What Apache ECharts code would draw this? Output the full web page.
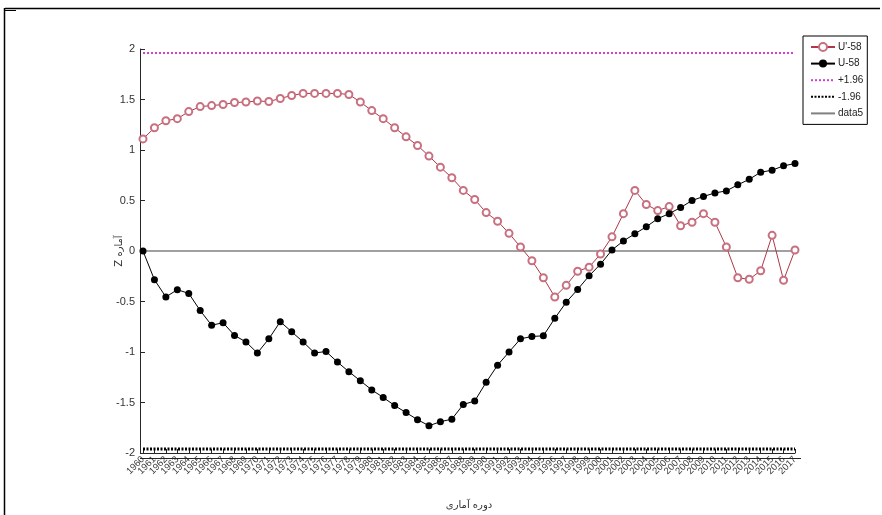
<!DOCTYPE html>
<html>
<head>
<meta charset="utf-8">
<script src="https://cdn.jsdelivr.net/npm/echarts@6/dist/echarts.min.js"></script>
<style>html,body{margin:0;padding:0;background:#fff;}#c{width:882px;height:515px;}</style>
</head>
<body>
<div id="c"></div>
<script>
const years = ['1960','1961','1962','1963','1964','1965','1966','1967','1968','1969',
  '1970','1971','1972','1973','1974','1975','1976','1977','1978','1979',
  '1980','1981','1982','1983','1984','1985','1986','1987','1988','1989',
  '1990','1991','1992','1993','1994','1995','1996','1997','1998','1999',
  '2000','2001','2002','2003','2004','2005','2006','2007','2008','2009',
  '2010','2011','2012','2013','2014','2015','2016','2017'];
const uPrime = [1.11,1.22,1.29,1.31,1.38,1.43,1.44,1.45,1.47,1.475,
  1.485,1.48,1.51,1.54,1.56,1.56,1.56,1.56,1.55,1.475,
  1.39,1.31,1.22,1.13,1.045,0.94,0.83,0.725,0.60,0.51,
  0.38,0.295,0.175,0.04,-0.096,-0.265,-0.455,-0.34,-0.20,-0.16,
  -0.03,0.14,0.37,0.60,0.46,0.40,0.44,0.25,0.285,0.37,
  0.285,0.04,-0.265,-0.28,-0.195,0.155,-0.29,0.01];
const u = [0,-0.285,-0.455,-0.383,-0.42,-0.59,-0.735,-0.71,-0.836,-0.90,
  -1.01,-0.87,-0.70,-0.80,-0.90,-1.01,-0.995,-1.10,-1.195,-1.285,
  -1.375,-1.45,-1.53,-1.60,-1.67,-1.73,-1.69,-1.665,-1.52,-1.485,
  -1.30,-1.13,-1.0,-0.87,-0.846,-0.84,-0.667,-0.507,-0.38,-0.246,
  -0.13,0.01,0.10,0.17,0.24,0.32,0.37,0.43,0.50,0.54,
  0.575,0.595,0.655,0.71,0.78,0.80,0.843,0.866];
const upperLimit = [1.96, 1.96];
const lowerLimit = [-1.96, -1.96];
const zeroLine = [0, 0];
const limitYears = ['1960', '2017'];
const seriesNames = ["U'-58", "U-58", "+1.96", "-1.96", "data5"];
const xTitle = "دوره آماری";
const yTitle = "Z آماره";

const pair = (xs, ys) => xs.map((x, i) => [x, ys[i]]);
const chart = echarts.init(document.getElementById('c'), null, {renderer: 'canvas'});
const axisColor = '#262626';
const noSymbol = {opacity: 0};
chart.setOption({
  animation: false,
  backgroundColor: '#fff',
  textStyle: {fontFamily: 'Liberation Sans, Arial, sans-serif'},
  grid: {left: 143, right: 87, top: 49, bottom: 57, containLabel: false},
  xAxis: {
    type: 'category', data: years, boundaryGap: false,
    name: xTitle, nameLocation: 'middle', nameGap: 47, nameMoveOverlap: false,
    nameTextStyle: {fontFamily: 'DejaVu Sans', fontSize: 10, color: '#333'},
    axisLine: {show: true, onZero: false, lineStyle: {color: axisColor, width: 1}},
    axisTick: {show: true, inside: true, length: 4, interval: 0, alignWithLabel: true, lineStyle: {color: axisColor}},
    axisLabel: {interval: 0, rotate: 45, fontSize: 9.5, color: '#3a3a3a', margin: 5},
    splitLine: {show: false}
  },
  yAxis: {
    type: 'value', min: -2, max: 2, interval: 0.5, offset: 3,
    name: yTitle, nameLocation: 'middle', nameGap: 16, nameRotate: 90, nameMoveOverlap: false,
    nameTextStyle: {fontFamily: 'DejaVu Sans', fontSize: 10, color: '#333'},
    axisLine: {show: true, lineStyle: {color: axisColor, width: 1}},
    axisTick: {show: true, inside: true, length: 5, lineStyle: {color: axisColor}},
    axisLabel: {fontSize: 11, color: '#333', margin: 5},
    splitLine: {show: false}
  },
  legend: {
    orient: 'vertical', left: 803, top: 36,
    data: [
      {name: seriesNames[0]},
      {name: seriesNames[1]},
      {name: seriesNames[2], itemStyle: noSymbol},
      {name: seriesNames[3], itemStyle: noSymbol},
      {name: seriesNames[4], itemStyle: noSymbol}
    ],
    backgroundColor: '#fff',
    borderColor: '#000', borderWidth: 1, borderRadius: 0,
    padding: [6, 4, 6, 7],
    itemWidth: 24, itemHeight: 10, itemGap: 6.6,
    textStyle: {fontSize: 10, color: '#222', padding: [0, 0, 0, -2]}
  },
  series: [
    {
      name: seriesNames[0], type: 'line', data: pair(years, uPrime),
      symbol: 'emptyCircle', symbolSize: 7, z: 4,
      lineStyle: {color: '#b03848', width: 1},
      itemStyle: {color: '#c87080', borderColor: '#c87080', borderWidth: 0.5}
    },
    {
      name: seriesNames[1], type: 'line', data: pair(years, u),
      symbol: 'circle', symbolSize: 7, z: 4,
      lineStyle: {color: '#000', width: 1},
      itemStyle: {color: '#000'}
    },
    {
      name: seriesNames[2], type: 'line', data: pair(limitYears, upperLimit),
      symbol: 'none', z: 3,
      lineStyle: {color: '#d040d0', width: 2, type: [2, 2]},
      itemStyle: {color: '#d040d0'}
    },
    {
      name: seriesNames[3], type: 'line', data: pair(limitYears, lowerLimit),
      symbol: 'none', z: 3,
      lineStyle: {color: '#000', width: 3, type: [2, 1.5]},
      itemStyle: {color: '#000'}
    },
    {
      name: seriesNames[4], type: 'line', data: pair(limitYears, zeroLine),
      symbol: 'none', z: 2,
      lineStyle: {color: '#808080', width: 1.6},
      itemStyle: {color: '#000'}
    }
  ],
  graphic: [
    {type: 'line', shape: {x1: 5, y1: 8.5, x2: 880, y2: 8.5}, style: {stroke: '#000', lineWidth: 1.5}},
    {type: 'line', shape: {x1: 4.5, y1: 8, x2: 4.5, y2: 515}, style: {stroke: '#000', lineWidth: 1.5}},
    {type: 'line', shape: {x1: 4, y1: 10.5, x2: 16, y2: 10.5}, style: {stroke: '#000', lineWidth: 1}},
    {type: 'line', shape: {x1: 140, y1: 458.5, x2: 801, y2: 458.5}, style: {stroke: axisColor, lineWidth: 1}, z: 1}
  ]
});
</script>
</body>
</html>
